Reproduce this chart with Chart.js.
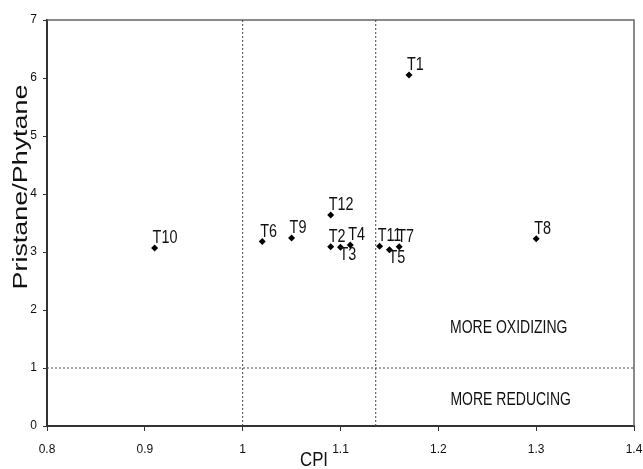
<!DOCTYPE html>
<html>
<head>
<meta charset="utf-8">
<script src="https://cdn.jsdelivr.net/npm/chart.js@4.4.1/dist/chart.umd.min.js"></script>
<style>
  html, body { margin: 0; padding: 0; background: #fff; }
  #wrap { width: 643px; height: 469px; }
</style>
</head>
<body>
<div id="wrap"><canvas id="graph" width="643" height="469"></canvas></div>
<script>
// samples, CPI (x) and pristane/phytane ratio (y)
var sampleNames = ['T1', 'T2', 'T3', 'T4', 'T5', 'T6', 'T7', 'T8', 'T9', 'T10', 'T11', 'T12'];
var cpiValues = [1.17, 1.09, 1.10, 1.11, 1.15, 1.02, 1.16, 1.30, 1.05, 0.91, 1.14, 1.09];
var prPhValues = [6.05, 3.09, 3.08, 3.12, 3.04, 3.18, 3.09, 3.23, 3.24, 3.07, 3.10, 3.64];

var cpiTicks = [0.8, 0.9, 1, 1.1, 1.2, 1.3, 1.4];
var prPhTicks = [0, 1, 2, 3, 4, 5, 6, 7];

// dotted boundaries
var cpiBoundaries = [1.0, 1.136];
var prPhBoundary = 1;

// these labels sit under their point instead of above it
var labelsBelow = ['T3', 'T5'];

var sans = '"Liberation Sans", Arial, sans-serif';
var squeeze = 0.8;

function getPoints() {
  var pts = [];
  for (var i = 0; i < sampleNames.length; i++) {
    pts.push({ x: cpiValues[i], y: prPhValues[i], name: sampleNames[i] });
  }
  return pts;
}

function boundaryLine(points) {
  return {
    data: points,
    showLine: true,
    borderColor: '#444',
    borderWidth: 1,
    borderDash: [2, 2],
    pointRadius: 0,
    fill: false
  };
}

var datasets = [];
cpiBoundaries.forEach(function(c) {
  datasets.push(boundaryLine([{ x: c, y: prPhTicks[0] }, { x: c, y: prPhTicks[prPhTicks.length - 1] }]));
});
datasets.push(boundaryLine([{ x: cpiTicks[0], y: prPhBoundary }, { x: cpiTicks[cpiTicks.length - 1], y: prPhBoundary }]));
datasets.push({
  data: getPoints(),
  backgroundColor: '#000',
  borderColor: '#000',
  borderWidth: 0,
  pointStyle: 'rectRot',
  pointRadius: 3.5
});

// narrow-looking text: plain sans squeezed sideways
function squeezedText(ctx, text, x, y, sx) {
  ctx.save();
  ctx.translate(x, y);
  ctx.scale(sx, 1);
  ctx.fillText(text, 0, 0);
  ctx.restore();
}

var textPlugin = {
  id: 'texts',
  beforeDatasetsDraw: function(chart) {
    var ctx = chart.ctx, a = chart.chartArea;
    ctx.save();
    ctx.strokeStyle = '#666';
    ctx.lineWidth = 1.5;
    ctx.beginPath();
    ctx.moveTo(a.left, a.top);
    ctx.lineTo(a.right, a.top);
    ctx.lineTo(a.right, a.bottom);
    ctx.stroke();
    ctx.restore();
  },
  afterDraw: function(chart) {
    var ctx = chart.ctx;
    var xs = chart.scales.x, ys = chart.scales.y;
    var last = chart.data.datasets.length - 1;
    var meta = chart.getDatasetMeta(last);
    var pts = chart.data.datasets[last].data;

    ctx.save();
    ctx.fillStyle = '#111';
    ctx.font = '18px ' + sans;
    ctx.textAlign = 'left';
    meta.data.forEach(function(el, i) {
      var name = pts[i].name;
      if (labelsBelow.indexOf(name) >= 0) {
        ctx.textBaseline = 'top';
        squeezedText(ctx, name, el.x - 1, el.y - 1, squeeze);
      } else {
        ctx.textBaseline = 'alphabetic';
        squeezedText(ctx, name, el.x - 2, el.y - 5, squeeze);
      }
    });

    // region notes
    ctx.font = '17.5px ' + sans;
    ctx.textAlign = 'center';
    ctx.textBaseline = 'middle';
    squeezedText(ctx, 'MORE OXIDIZING', xs.getPixelForValue(1.272), ys.getPixelForValue(1.69), squeeze);
    squeezedText(ctx, 'MORE REDUCING', xs.getPixelForValue(1.274), ys.getPixelForValue(0.45), squeeze);

    // axis titles
    ctx.font = '21px ' + sans;
    squeezedText(ctx, 'CPI', 314, 460, squeeze);

    ctx.translate(21, 187);
    ctx.rotate(-Math.PI / 2);
    ctx.font = '20px ' + sans;
    var w = ctx.measureText('Pristane/Phytane').width;
    ctx.scale(205 / w, 1);
    ctx.fillText('Pristane/Phytane', 0, 0);
    ctx.restore();
  }
};

function tickSetter(values) {
  return function(scale) {
    scale.ticks = values.map(function(v) { return { value: v }; });
  };
}

new Chart(document.getElementById('graph'), {
  type: 'scatter',
  data: { datasets: datasets },
  options: {
    responsive: false,
    devicePixelRatio: 1,
    animation: false,
    layout: { padding: { top: 20, right: 9, left: 0, bottom: 0 } },
    plugins: {
      legend: { display: false },
      tooltip: { enabled: false }
    },
    scales: {
      x: {
        type: 'linear',
        min: 0.8,
        max: 1.4,
        afterBuildTicks: tickSetter(cpiTicks),
        afterFit: function(s) {
          s.height = 43;
          s.paddingLeft = 0;
          s.paddingRight = 0;
        },
        ticks: {
          font: { family: sans, size: 12 },
          color: '#111',
          padding: 11,
          maxRotation: 0,
          callback: function(v) { return String(v); }
        },
        grid: { drawOnChartArea: false, tickLength: 5, color: '#333' },
        border: { color: '#333', width: 2 }
      },
      y: {
        type: 'linear',
        min: 0,
        max: 7,
        afterBuildTicks: tickSetter(prPhTicks),
        afterFit: function(s) {
          s.width = 47;
          s.paddingTop = 0;
          s.paddingBottom = 0;
        },
        ticks: {
          font: { family: sans, size: 12 },
          color: '#111',
          padding: 6,
          callback: function(v) { return String(v); }
        },
        grid: { drawOnChartArea: false, tickLength: 4, color: '#333' },
        border: { color: '#333', width: 2 }
      }
    }
  },
  plugins: [textPlugin]
});
</script>
</body>
</html>
